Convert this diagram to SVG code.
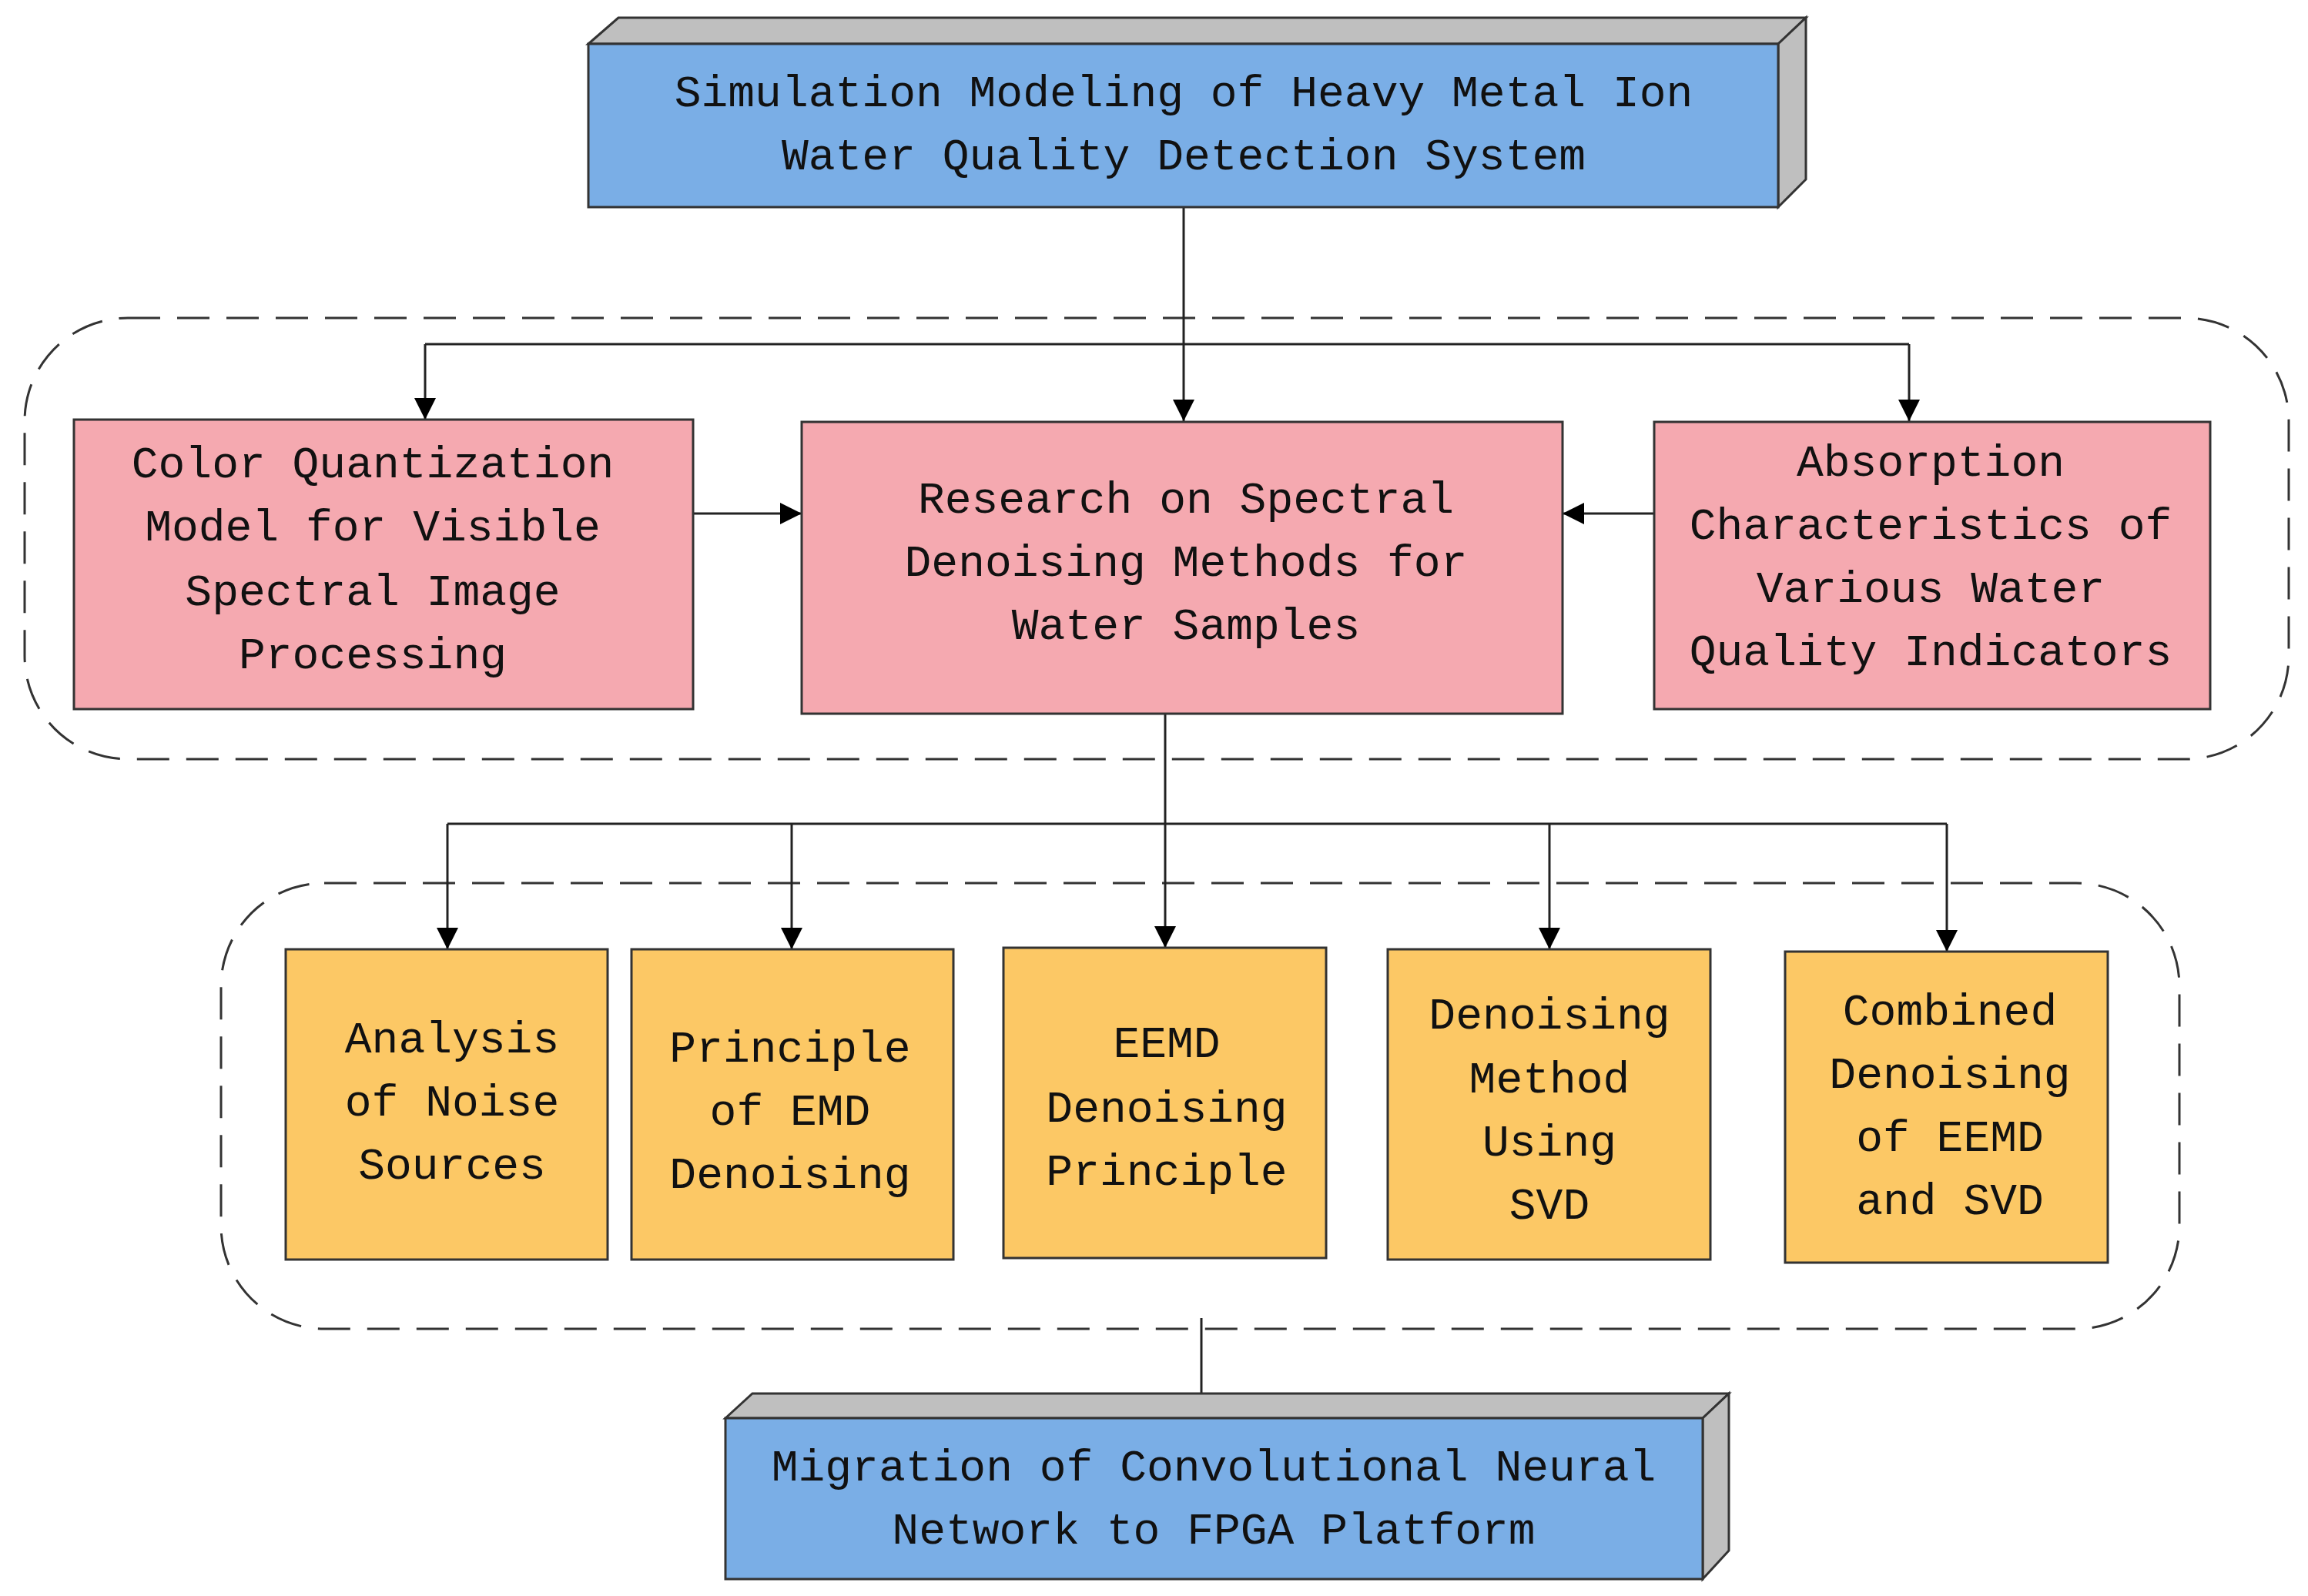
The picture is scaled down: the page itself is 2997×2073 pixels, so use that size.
<svg xmlns="http://www.w3.org/2000/svg" width="2997" height="2073" viewBox="0 0 2997 2073">
<style>
text{font-family:"Liberation Mono","DejaVu Sans Mono",monospace;font-size:58px;fill:#111;text-anchor:middle;dominant-baseline:central}
.blue{fill:#7AAEE6;stroke:#333;stroke-width:3}
.side{fill:#BFBFBF;stroke:#333;stroke-width:3}
.pink{fill:#F5A9B0;stroke:#333;stroke-width:3}
.yel{fill:#FCC865;stroke:#333;stroke-width:3}
.grp{fill:none;stroke:#333;stroke-width:3;stroke-dasharray:42 22}
.c{fill:none;stroke:#222;stroke-width:3;marker-end:url(#ah)}
.l{fill:none;stroke:#222;stroke-width:3}
</style>
<defs><marker id="ah" markerUnits="userSpaceOnUse" markerWidth="28" markerHeight="36" refX="28" refY="14" orient="auto"><path d="M0,0 L28,14 L0,28 Z" fill="#000"/></marker></defs>
<rect width="2997" height="2073" fill="#fff"/>
<rect class="grp" x="32" y="413" width="2940" height="573" rx="134"/>
<rect class="grp" x="287" y="1147" width="2543" height="579" rx="134"/>
<g id="connectors">
<path class="c" d="M1537,269 V547"/>
<path class="l" d="M552,447 H2479"/>
<path class="c" d="M552,447 V545"/>
<path class="c" d="M2479,447 V547"/>
<path class="c" d="M900,667 H1041"/>
<path class="c" d="M2148,667 H2029"/>
<path class="l" d="M1513,927 V1070"/>
<path class="l" d="M581,1070 H2528"/>
<path class="c" d="M581,1070 V1233"/>
<path class="c" d="M1028,1070 V1233"/>
<path class="c" d="M1513,1070 V1231"/>
<path class="c" d="M2012,1070 V1233"/>
<path class="c" d="M2528,1070 V1236"/>
<path class="c" d="M1560,1712 V1842"/>
</g>
<g id="top">
<polygon class="side" points="764,57 803,23 2345,23 2309,57"/>
<polygon class="side" points="2309,57 2345,23 2345,233 2309,269"/>
<rect class="blue" x="764" y="57" width="1545" height="212"/>
<text x="1537" y="122">Simulation Modeling of Heavy Metal Ion</text>
<text x="1537" y="204">Water Quality Detection System</text>
</g>
<g id="color">
<rect class="pink" x="96" y="545" width="804" height="376"/>
<text x="484" y="604">Color Quantization</text>
<text x="484" y="686">Model for Visible</text>
<text x="484" y="770">Spectral Image</text>
<text x="484" y="852">Processing</text>
</g>
<g id="research">
<rect class="pink" x="1041" y="548" width="988" height="379"/>
<text x="1540" y="650">Research on Spectral</text>
<text x="1540" y="732">Denoising Methods for</text>
<text x="1540" y="814">Water Samples</text>
</g>
<g id="absorption">
<rect class="pink" x="2148" y="548" width="722" height="373"/>
<text x="2507" y="602">Absorption</text>
<text x="2507" y="684">Characteristics of</text>
<text x="2507" y="766">Various Water</text>
<text x="2507" y="848">Quality Indicators</text>
</g>
<g id="noise">
<rect class="yel" x="371" y="1233" width="418" height="403"/>
<text x="587" y="1351">Analysis</text>
<text x="587" y="1433">of Noise</text>
<text x="587" y="1515">Sources</text>
</g>
<g id="emd">
<rect class="yel" x="820" y="1233" width="418" height="403"/>
<text x="1026" y="1363">Principle</text>
<text x="1026" y="1445">of EMD</text>
<text x="1026" y="1527">Denoising</text>
</g>
<g id="eemd">
<rect class="yel" x="1303" y="1231" width="419" height="403"/>
<text x="1515" y="1357">EEMD</text>
<text x="1515" y="1441">Denoising</text>
<text x="1515" y="1523">Principle</text>
</g>
<g id="svd">
<rect class="yel" x="1802" y="1233" width="419" height="403"/>
<text x="2012" y="1320">Denoising</text>
<text x="2012" y="1403">Method</text>
<text x="2012" y="1485">Using</text>
<text x="2012" y="1567">SVD</text>
</g>
<g id="combined">
<rect class="yel" x="2318" y="1236" width="419" height="404"/>
<text x="2532" y="1315">Combined</text>
<text x="2532" y="1397">Denoising</text>
<text x="2532" y="1479">of EEMD</text>
<text x="2532" y="1561">and SVD</text>
</g>
<g id="bottom">
<polygon class="side" points="942,1842 977,1810 2245,1810 2211,1842"/>
<polygon class="side" points="2211,1842 2245,1810 2245,2014 2211,2051"/>
<rect class="blue" x="942" y="1842" width="1269" height="209"/>
<text x="1576" y="1907">Migration of Convolutional Neural</text>
<text x="1576" y="1989">Network to FPGA Platform</text>
</g>
</svg>
